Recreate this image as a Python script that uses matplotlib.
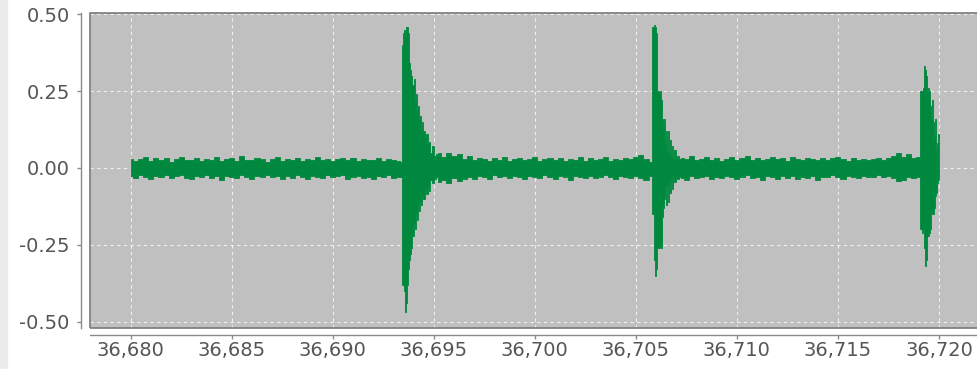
import matplotlib

matplotlib.use("Agg")
import matplotlib.pyplot as plt
import numpy as np
from matplotlib.patches import Rectangle
from matplotlib.ticker import FuncFormatter, MultipleLocator

# time axis origin (s); all sample times below are in ms after it
T0 = 36.680
NOISE_STEP_MS = 0.25

# --- background noise, envelope per 0.25 ms ---
noise_a_start = 0.0
noise_a_hi = [
    0.028, 0.022, 0.030, 0.036, 0.024, 0.031, 0.026, 0.034, 0.021, 0.029,
    0.037, 0.025, 0.027, 0.032, 0.022, 0.030, 0.026, 0.035, 0.024, 0.028,
    0.031, 0.023, 0.038, 0.027, 0.025, 0.032, 0.029, 0.021, 0.030, 0.036,
    0.024, 0.028, 0.026, 0.033, 0.022, 0.029, 0.027, 0.037, 0.025, 0.030,
    0.023, 0.028, 0.034, 0.026, 0.031, 0.022, 0.029, 0.025, 0.027, 0.033,
    0.024, 0.028, 0.026, 0.022,
]
noise_a_lo = [
    -0.026, -0.033, -0.024, -0.030, -0.036, -0.025, -0.031, -0.022, -0.034, -0.027,
    -0.024, -0.032, -0.037, -0.026, -0.029, -0.023, -0.033, -0.027, -0.038, -0.025,
    -0.028, -0.034, -0.024, -0.030, -0.036, -0.026, -0.031, -0.023, -0.029, -0.025,
    -0.035, -0.027, -0.032, -0.024, -0.030, -0.037, -0.026, -0.028, -0.033, -0.023,
    -0.031, -0.027, -0.024, -0.035, -0.029, -0.025, -0.032, -0.028, -0.036, -0.026,
    -0.030, -0.024, -0.033, -0.028,
]

noise_b_start = 15.25
noise_b_hi = [
    0.048, 0.036, 0.050, 0.040, 0.046, 0.030, 0.038, 0.026, 0.033, 0.028,
    0.024, 0.031, 0.027, 0.035, 0.022, 0.029, 0.033, 0.025, 0.030, 0.036,
    0.023, 0.028, 0.032, 0.026, 0.034, 0.022, 0.029, 0.027, 0.037, 0.024,
    0.031, 0.026, 0.028, 0.035, 0.023, 0.030, 0.026, 0.033, 0.028, 0.036,
    0.041, 0.030,
]
noise_b_lo = [
    -0.045, -0.038, -0.048, -0.034, -0.042, -0.036, -0.028, -0.035, -0.026, -0.031,
    -0.036, -0.024, -0.030, -0.027, -0.034, -0.025, -0.029, -0.037, -0.026, -0.031,
    -0.033, -0.024, -0.028, -0.035, -0.027, -0.030, -0.038, -0.025, -0.029, -0.033,
    -0.026, -0.034, -0.028, -0.024, -0.031, -0.036, -0.027, -0.030, -0.034, -0.025,
    -0.032, -0.040,
]

noise_c_start = 27.25
noise_c_hi = [
    0.034, 0.028, 0.038, 0.025, 0.030, 0.036, 0.027, 0.032, 0.024, 0.029,
    0.035, 0.026, 0.031, 0.039, 0.027, 0.033, 0.025, 0.030, 0.036, 0.028,
    0.032, 0.024, 0.037, 0.029, 0.026, 0.034, 0.030, 0.027, 0.033, 0.025,
    0.031, 0.036, 0.028, 0.024, 0.032, 0.027, 0.030, 0.025, 0.029, 0.034,
    0.026, 0.031, 0.040, 0.048, 0.036, 0.044, 0.032,
]
noise_c_lo = [
    -0.032, -0.038, -0.027, -0.034, -0.029, -0.025, -0.036, -0.030, -0.033, -0.026,
    -0.031, -0.037, -0.028, -0.024, -0.034, -0.029, -0.039, -0.026, -0.030, -0.035,
    -0.027, -0.032, -0.025, -0.036, -0.029, -0.033, -0.026, -0.038, -0.028, -0.031,
    -0.024, -0.030, -0.035, -0.027, -0.029, -0.033, -0.025, -0.031, -0.028, -0.022,
    -0.030, -0.026, -0.034, -0.042, -0.038, -0.030, -0.034,
]

# --- impulse bursts (ms, upper, lower) ---
burst1_t = [13.38, 13.47, 13.52, 13.57, 13.62, 13.67, 13.72, 13.77, 13.82, 13.87,
            13.92, 13.97, 14.02, 14.07, 14.12, 14.17, 14.22, 14.27, 14.32, 14.37,
            14.42, 14.52, 14.57, 14.66, 14.72, 14.81, 14.86, 14.96, 15.06, 15.16]
burst1_hi = [0.020, 0.400, 0.440, 0.450, 0.430, 0.460, 0.460, 0.440, 0.340, 0.320,
             0.300, 0.270, 0.290, 0.220, 0.240, 0.190, 0.200, 0.160, 0.170, 0.130,
             0.150, 0.120, 0.100, 0.110, 0.080, 0.085, 0.050, 0.070, 0.040, 0.045]
burst1_lo = [-0.030, -0.380, -0.380, -0.400, -0.470, -0.440, -0.380, -0.330, -0.300, -0.280,
             -0.260, -0.220, -0.180, -0.200, -0.150, -0.170, -0.120, -0.140, -0.110, -0.120,
             -0.090, -0.100, -0.070, -0.085, -0.060, -0.075, -0.040, -0.050, -0.035, -0.030]

burst2_t = [25.75, 25.85, 25.90, 25.95, 26.00, 26.05, 26.10, 26.15, 26.20, 26.25,
            26.30, 26.35, 26.40, 26.45, 26.50, 26.55, 26.60, 26.65, 26.70, 26.75,
            26.80, 26.85, 26.94, 26.99, 27.09, 27.19]
burst2_hi = [0.020, 0.460, 0.465, 0.460, 0.440, 0.250, 0.250, 0.240, 0.250, 0.220,
             0.160, 0.140, 0.160, 0.080, 0.120, 0.060, 0.120, 0.050, 0.090, 0.040,
             0.070, 0.030, 0.060, 0.030, 0.040, 0.030]
burst2_lo = [-0.025, -0.150, -0.300, -0.350, -0.330, -0.260, -0.260, -0.260, -0.250, -0.260,
             -0.160, -0.130, -0.100, -0.060, -0.120, -0.060, -0.110, -0.050, -0.080, -0.040,
             -0.070, -0.030, -0.045, -0.030, -0.035, -0.030]

burst3_t = [39.01, 39.11, 39.16, 39.21, 39.26, 39.31, 39.36, 39.41, 39.46, 39.51,
            39.56, 39.61, 39.66, 39.71, 39.76, 39.81, 39.86, 39.91, 39.96, 40.00]
burst3_hi = [0.035, 0.250, 0.250, 0.260, 0.330, 0.320, 0.300, 0.250, 0.260, 0.250,
             0.200, 0.160, 0.220, 0.150, 0.100, 0.160, 0.060, 0.080, 0.110, 0.100]
burst3_lo = [-0.030, -0.200, -0.210, -0.200, -0.260, -0.320, -0.300, -0.220, -0.220, -0.210,
             -0.200, -0.140, -0.150, -0.150, -0.130, -0.090, -0.080, -0.050, -0.040, 0.000]

y_ticks = [-0.50, -0.25, 0.00, 0.25, 0.50]


def noise_times(start, values):
    return start + NOISE_STEP_MS * np.arange(len(values))


t_ms = np.concatenate([
    noise_times(noise_a_start, noise_a_hi), burst1_t,
    noise_times(noise_b_start, noise_b_hi), burst2_t,
    noise_times(noise_c_start, noise_c_hi), burst3_t,
])
hi = np.concatenate([noise_a_hi, burst1_hi, noise_b_hi, burst2_hi, noise_c_hi, burst3_hi])
lo = np.concatenate([noise_a_lo, burst1_lo, noise_b_lo, burst2_lo, noise_c_lo, burst3_lo])
t = T0 + t_ms / 1000.0

plt.rcParams["axes.unicode_minus"] = False
plt.rcParams["font.family"] = "DejaVu Sans"

W, H = 978, 369
fig = plt.figure(figsize=(W / 100, H / 100), dpi=100)
fig.patch.set_facecolor("white")
fig.patches.append(Rectangle((0, 0), 7 / W, 1, transform=fig.transFigure,
                             color="#ececec", zorder=0))

left, right, top, bottom = 90, 980, 13, 328
ax = fig.add_axes([left / W, 1 - bottom / H, (right - left) / W, (bottom - top) / H])
ax.set_facecolor("#c0c0c0")

green = "#00893e"
ax.fill_between(t, lo, hi, step="mid", facecolor=green, edgecolor=green,
                lw=0.6, antialiased=False, zorder=3)

px_per_s = (939.0 - 130.7) / 0.040
ax.set_xlim(T0 - (130.7 - left) / px_per_s, T0 + (right - 130.7) / px_per_s)
ax.set_ylim(-0.5205, 0.504)

ax.xaxis.set_major_locator(MultipleLocator(0.005))
ax.xaxis.set_major_formatter(FuncFormatter(lambda v, p: f"{v:.3f}".replace(".", ",")))
ax.set_yticks(y_ticks)
ax.yaxis.set_major_formatter(FuncFormatter(lambda v, p: f"{v:.2f}"))

ax.grid(True, color="#f0f0f0", lw=0.8, ls=(0, (3, 3)), zorder=1)
ax.set_axisbelow(True)

for s in ("top", "right"):
    ax.spines[s].set_visible(False)
ax.spines["left"].set_position(("outward", 6.5))
ax.spines["bottom"].set_position(("outward", 5))
for s in ("left", "bottom"):
    ax.spines[s].set_color("#8a8a8a")
    ax.spines[s].set_linewidth(1.0)

ax.add_patch(Rectangle((0, 0), 1, 1, transform=ax.transAxes, fill=False,
                       ec="#7a7a7a", lw=1.2, clip_on=False, zorder=6))

ax.tick_params(axis="both", colors="#8a8a8a", labelcolor="#555555",
               labelsize=14, length=3, width=1)
ax.tick_params(axis="y", pad=5)
ax.tick_params(axis="x", pad=1)

fig.savefig("out.png", dpi=100)
